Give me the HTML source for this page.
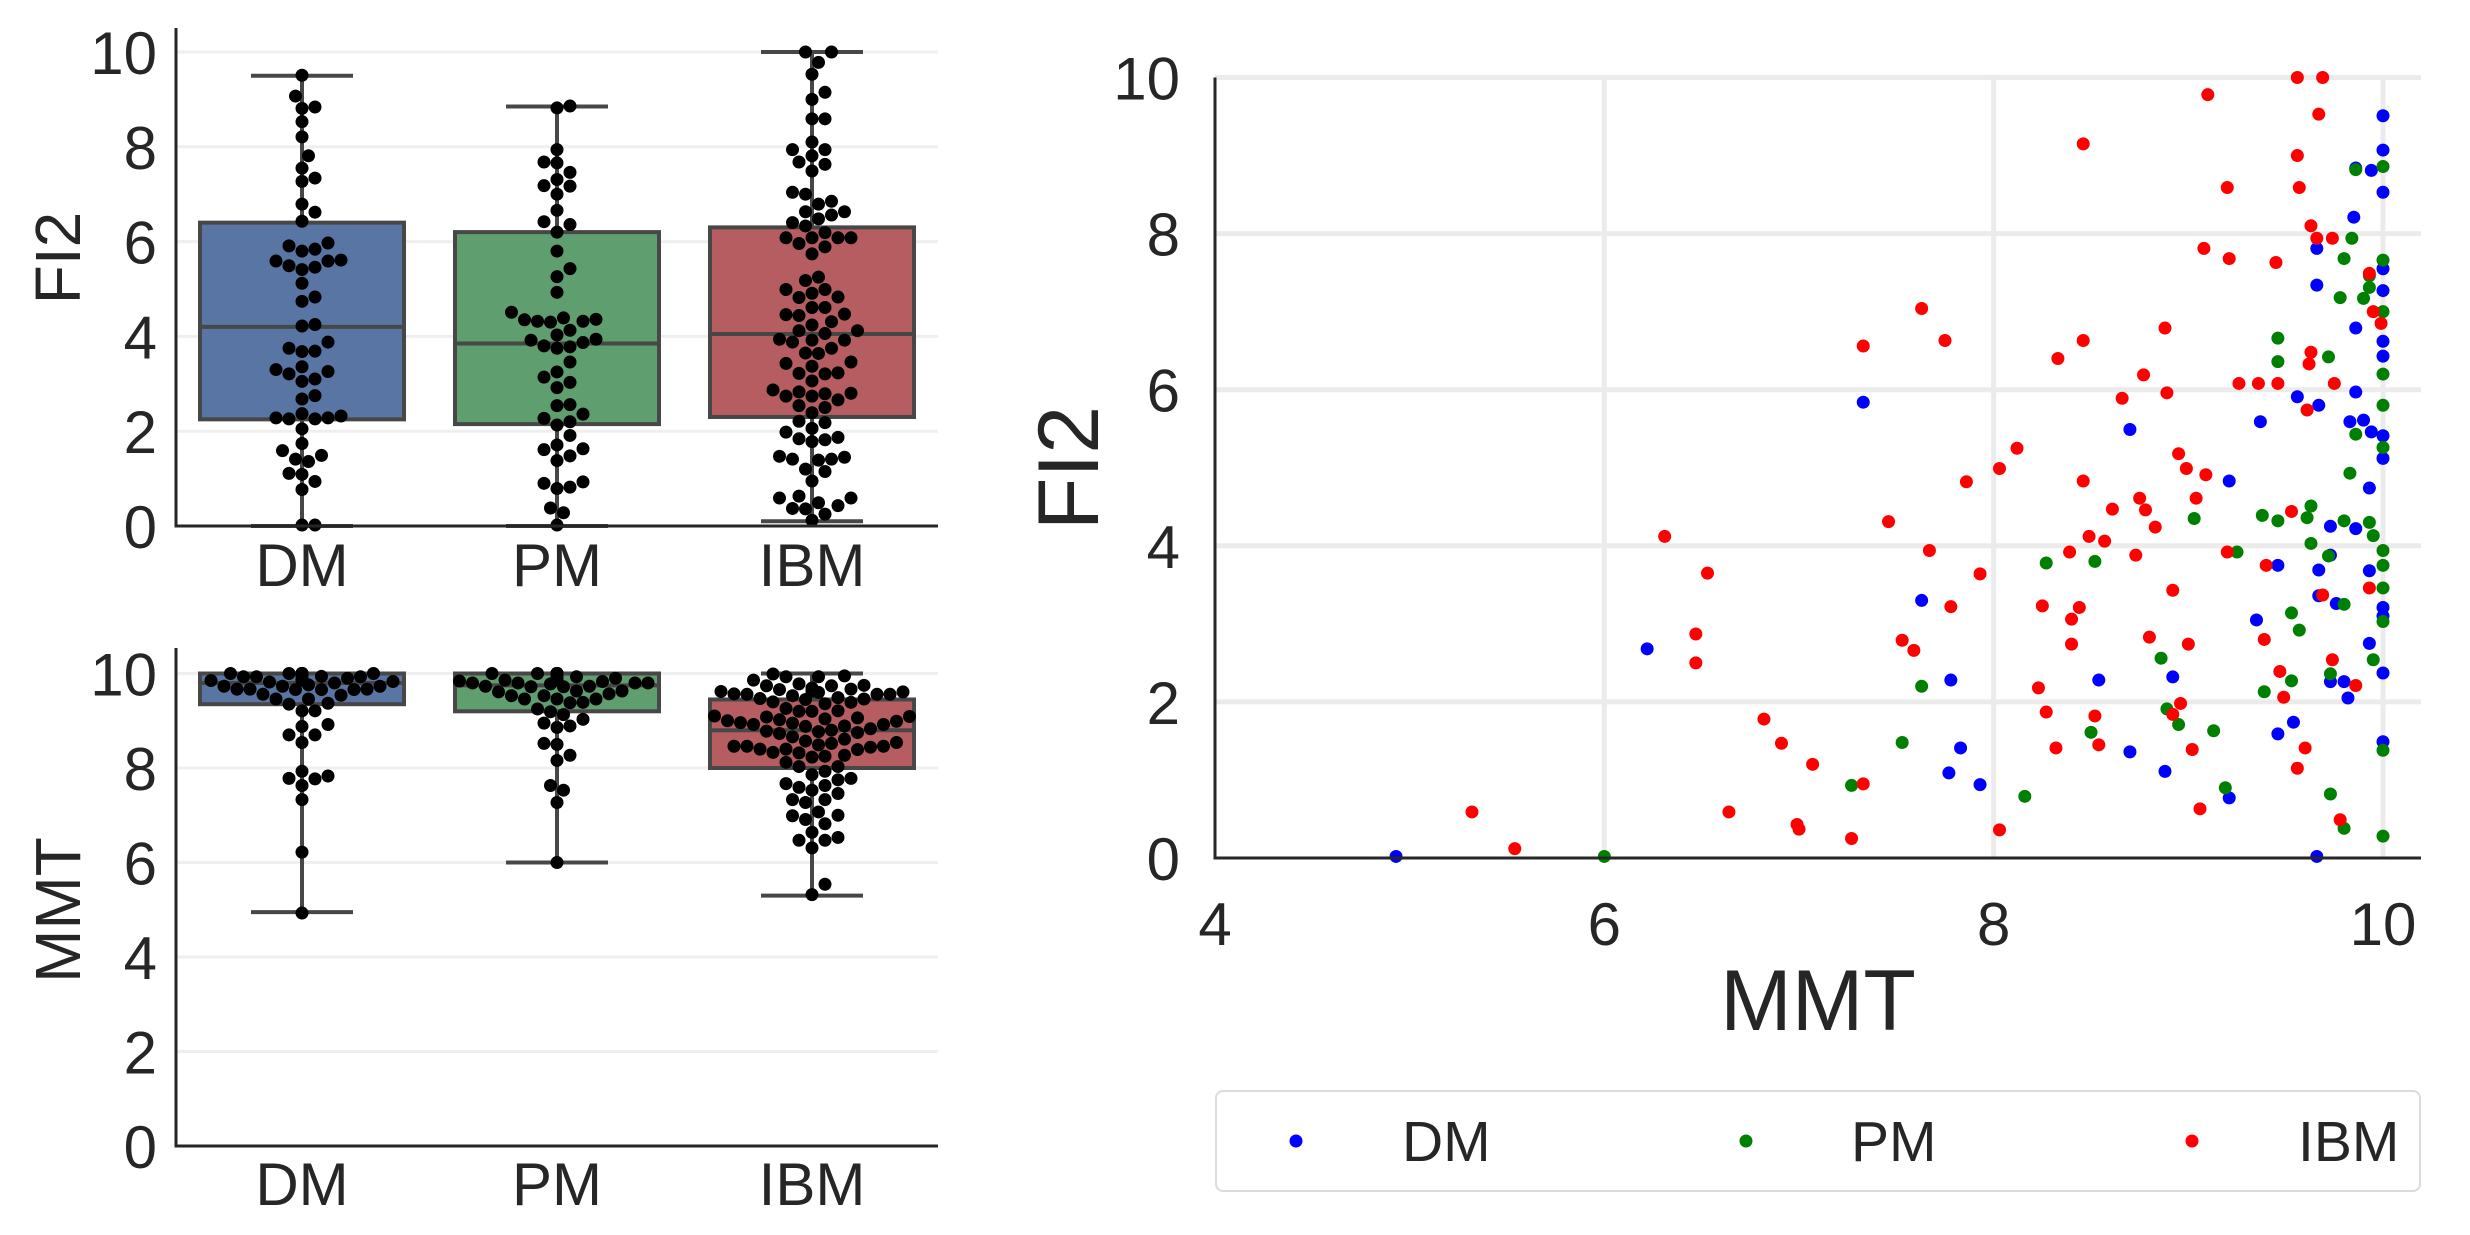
<!DOCTYPE html>
<html><head><meta charset="utf-8">
<style>
html,body{margin:0;padding:0;background:#fff;}
svg{display:block;font-family:"Liberation Sans",sans-serif;}
</style></head>
<body>
<svg id="chart" width="2470" height="1235" viewBox="0 0 2470 1235" xmlns="http://www.w3.org/2000/svg">
<rect width="2470" height="1235" fill="#fff"/>
<g id="top"></g>
<g id="bot"></g>
<g id="sc"></g>
</svg>
<script>
const groups = ["DM","PM","IBM"];
const dotColors = ["#0000ff","#008000","#ff0000"];
const boxColors = ["#5875a4","#5f9e6e","#b55d60"];
// per-group [MMT, FI2] pairs
const dmMMT = [10,10,9.86,9.94,10,9.85,9.66,10,10,9.66,9.86,10,10,7.33,9.56,9.86,9.67,9.37,9.83,9.90,9.94,10,10,8.70,9.21,9.93,9.73,9.86,9.73,9.46,9.67,9.93,9.67,7.63,9.76,10,10,9.35,6.22,9.93,10,8.54,8.92,7.78,9.73,9.80,9.82,9.46,9.54,10,7.83,8.70,7.77,8.88,7.93,9.21,4.93,9.66];
const dmFI2 = [9.51,9.07,8.84,8.81,8.53,8.21,7.81,7.55,7.27,7.34,6.79,6.62,6.43,5.84,5.91,5.97,5.80,5.59,5.59,5.61,5.46,5.41,5.12,5.49,4.83,4.74,4.25,4.22,3.88,3.75,3.69,3.68,3.36,3.30,3.26,3.21,3.10,3.05,2.68,2.75,2.37,2.28,2.32,2.28,2.26,2.26,2.05,1.59,1.74,1.49,1.41,1.36,1.09,1.11,0.94,0.77,0.02,0.02];
const pmMMT = [9.86,10,9.84,9.80,10,9.93,9.93,9.90,9.78,10,9.46,9.46,9.72,10,10,9.86,10,9.83,9.03,9.38,9.46,9.63,9.61,9.80,9.93,9.95,10,10,10,10,9.63,9.72,9.25,8.27,8.52,9.80,9.53,9.57,9.95,8.86,9.73,9.53,7.63,9.39,8.89,8.95,8.50,9.13,7.53,10,7.27,9.19,9.73,8.16,9.80,10,6.0];
const pmFI2 = [8.82,8.86,7.94,7.68,7.66,7.46,7.31,7.17,7.18,7.0,6.66,6.36,6.42,6.20,5.80,5.43,5.26,4.93,4.35,4.39,4.32,4.51,4.36,4.32,4.30,4.13,3.94,3.75,3.46,3.03,4.03,3.87,3.92,3.78,3.80,3.25,3.14,2.92,2.54,2.56,2.36,2.27,2.20,2.13,1.91,1.71,1.61,1.63,1.48,1.38,0.93,0.90,0.82,0.79,0.38,0.28,0.02];
const ibmMMT = [9.10,8.46,9.56,9.69,9.67,9.56,9.20,9.57,9.63,9.66,9.74,9.08,9.21,9.45,9.93,9.95,9.99,7.63,7.75,7.33,8.88,8.46,8.33,9.63,9.62,8.77,8.66,8.89,9.26,9.36,9.46,9.75,9.61,8.12,8.03,7.86,8.95,8.99,9.09,8.46,9.04,8.75,8.78,8.61,8.83,9.53,7.46,6.31,7.67,8.49,8.57,8.39,8.73,9.20,9.40,6.53,7.93,8.92,9.93,9.69,8.25,8.44,8.40,7.78,6.47,6.47,7.53,7.59,8.40,8.80,9.00,9.39,9.47,9.74,9.86,8.23,9.49,8.96,8.92,8.27,8.52,6.82,6.91,8.32,8.54,9.02,9.60,9.56,7.07,7.33,5.32,6.64,9.06,9.78,6.99,7.00,8.03,7.27,5.54];
const ibmFI2 = [9.78,9.15,10,10,9.53,9.0,8.59,8.59,8.1,7.94,7.94,7.81,7.68,7.63,7.49,7.0,6.85,7.04,6.63,6.56,6.79,6.63,6.40,6.48,6.33,6.19,5.89,5.96,6.08,6.08,6.08,6.08,5.74,5.25,4.99,4.82,5.18,4.99,4.91,4.83,4.61,4.61,4.46,4.47,4.24,4.44,4.31,4.12,3.94,4.12,4.06,3.92,3.88,3.92,3.75,3.65,3.64,3.43,3.46,3.37,3.23,3.21,3.06,3.22,2.87,2.50,2.79,2.66,2.74,2.83,2.74,2.80,2.39,2.54,2.21,2.18,2.06,1.98,1.84,1.87,1.82,1.78,1.47,1.41,1.45,1.39,1.41,1.15,1.20,0.95,0.59,0.59,0.63,0.49,0.43,0.37,0.36,0.25,0.12];
// box stats [whiskerLo, q1, median, q3, whiskerHi]
const fi2Box = [[0,2.25,4.2,6.4,9.5],[0,2.15,3.85,6.2,8.85],[0.1,2.3,4.05,6.3,10]];
const mmtBox = [[4.95,9.35,9.8,10,10],[6.0,9.2,9.75,10,10],[5.3,8.0,8.8,9.45,10]];
const yTicks = [0,2,4,6,8,10];
const xTicksSc = [4,6,8,10];
const legendLabels = ["DM","PM","IBM"];

const NS="http://www.w3.org/2000/svg";
function mk(parent,tag,attrs,text){const e=document.createElementNS(NS,tag);for(const k in attrs)e.setAttribute(k,attrs[k]);if(text!==undefined)e.textContent=text;parent.appendChild(e);return e;}

const mmtAll=[dmMMT,pmMMT,ibmMMT], fi2All=[dmFI2,pmFI2,ibmFI2];

function swarm(vals, yfun, d, maxOff){
  const idx=vals.map((v,i)=>i).sort((a,b)=>vals[a]-vals[b]);
  const placed=[]; const out=new Array(vals.length);
  idx.forEach(i=>{
    const y=yfun(vals[i]); let best=null;
    const cands=[0]; for(let k=1;k<40;k++){cands.push(k*d*0.5,-k*d*0.5);}
    for(const c of cands){
      if(Math.abs(c)>maxOff){break;}
      let ok=true;
      for(const p of placed){const dx=p[0]-c,dy=p[1]-y;if(dx*dx+dy*dy<d*d*0.97){ok=false;break;}}
      if(ok){best=c;break;}
    }
    if(best===null){best=0;}
    placed.push([best,y]); out[i]=[best,y];
  });
  return out;
}

const TF=60, TO=22;
function boxPanel(g, name, y0, y10, axTop, labY, titleY, title, data, stats){
  const X0=176, X1=938, cx=[302,557,812], bw=204;
  const ys=v=>y0+(y10-y0)*v/10;
  yTicks.forEach(t=>{
    if(t>0){const gl=mk(g,'line',{x1:X0,x2:X1,y1:ys(t),y2:ys(t),stroke:'#efefef','stroke-width':3});
    
    }
    const tl=mk(g,'text',{x:157,y:ys(t)+TO,'text-anchor':'end','font-size':TF,fill:'#262626'},String(t));
    
    
  });
  const yt=mk(g,'text',{x:0,y:0,transform:`translate(80,${titleY}) rotate(-90)`,'text-anchor':'middle','font-size':64,fill:'#262626'},title);
  
  
  stats.forEach((s,i)=>{
    const bg=mk(g,'g',{});
    
    
    const st={stroke:'#474747','stroke-width':4,fill:'none'};
    mk(bg,'line',Object.assign({x1:cx[i],x2:cx[i],y1:ys(s[0]),y2:ys(s[1])},st));
    mk(bg,'line',Object.assign({x1:cx[i],x2:cx[i],y1:ys(s[3]),y2:ys(s[4])},st));
    mk(bg,'line',Object.assign({x1:cx[i]-51,x2:cx[i]+51,y1:ys(s[0]),y2:ys(s[0])},st));
    mk(bg,'line',Object.assign({x1:cx[i]-51,x2:cx[i]+51,y1:ys(s[4]),y2:ys(s[4])},st));
    mk(bg,'rect',{x:cx[i]-bw/2,y:ys(s[3]),width:bw,height:ys(s[1])-ys(s[3]),fill:boxColors[i],stroke:'#474747','stroke-width':4});
    mk(bg,'line',Object.assign({x1:cx[i]-bw/2,x2:cx[i]+bw/2,y1:ys(s[2]),y2:ys(s[2])},st));
    const sw=swarm(data[i],ys,13,bw/2);
    sw.forEach((p,j)=>{
      const c=mk(g,'circle',{cx:cx[i]+p[0],cy:p[1],r:6.5,fill:'#000'});
      
      
    });
    const xl=mk(g,'text',{x:cx[i],y:labY+TO,'text-anchor':'middle','font-size':TF,fill:'#262626'},groups[i]);
    
    
  });
  const ax=mk(g,'path',{d:`M${X0},${axTop} V${y0} H${X1}`,stroke:'#262626','stroke-width':3,fill:'none'});
  
  
}
boxPanel(document.getElementById('top'),'fi2',526,52,28,564,258,'FI2',fi2All,fi2Box);
boxPanel(document.getElementById('bot'),'mmt',1146,673.5,648,1183,910,'MMT',mmtAll,mmtBox);

// scatter
const sc=document.getElementById('sc');
const SX0=1215,SX1=2421,SY0=858,SY10=77.5;
const sx=v=>SX0+(v-4)*(2383-1215)/6;
const sy=v=>SY0+(SY10-SY0)*v/10;
yTicks.forEach(t=>{
  if(t>0){const gl=mk(sc,'line',{x1:SX0,x2:SX1,y1:sy(t),y2:sy(t),stroke:'#ebebeb','stroke-width':5});
  
  }
  const tl=mk(sc,'text',{x:1180,y:sy(t)+TO,'text-anchor':'end','font-size':TF,fill:'#262626'},String(t));
  
  
});
xTicksSc.forEach(t=>{
  if(t>4){const gl=mk(sc,'line',{x1:sx(t),x2:sx(t),y1:SY10,y2:SY0,stroke:'#ebebeb','stroke-width':5});
  
  }
  const tl=mk(sc,'text',{x:sx(t),y:945,'text-anchor':'middle','font-size':TF,fill:'#262626'},String(t));
  
  
});
[0,1,2].forEach(i=>{
  mmtAll[i].forEach((m,j)=>{
    const c=mk(sc,'circle',{cx:sx(m),cy:sy(fi2All[i][j]),r:6.5,fill:dotColors[i]});
    
    
  });
});
const sax=mk(sc,'path',{d:`M${SX0},${SY10} V${SY0} H${SX1}`,stroke:'#262626','stroke-width':3,fill:'none'});


const xt=mk(sc,'text',{x:1818,y:1030,'text-anchor':'middle','font-size':86,fill:'#262626'},'MMT');


const syt=mk(sc,'text',{x:0,y:0,transform:'translate(1098,468) rotate(-90)','text-anchor':'middle','font-size':86,fill:'#262626'},'FI2');


const lg=mk(sc,'g',{});


mk(lg,'rect',{x:1216,y:1091,width:1204,height:100,rx:7,fill:'#fff',stroke:'#dcdcdc','stroke-width':2});
const lmx=[1296,1746,2192], ltx=[1402,1851,2298];
legendLabels.forEach((l,i)=>{
  const e=mk(lg,'g',{});
  
  
  mk(e,'circle',{cx:lmx[i],cy:1141,r:6.5,fill:dotColors[i]});
  mk(e,'text',{x:ltx[i],y:1161,'font-size':57,fill:'#262626'},l);
});
</script>
</body></html>
